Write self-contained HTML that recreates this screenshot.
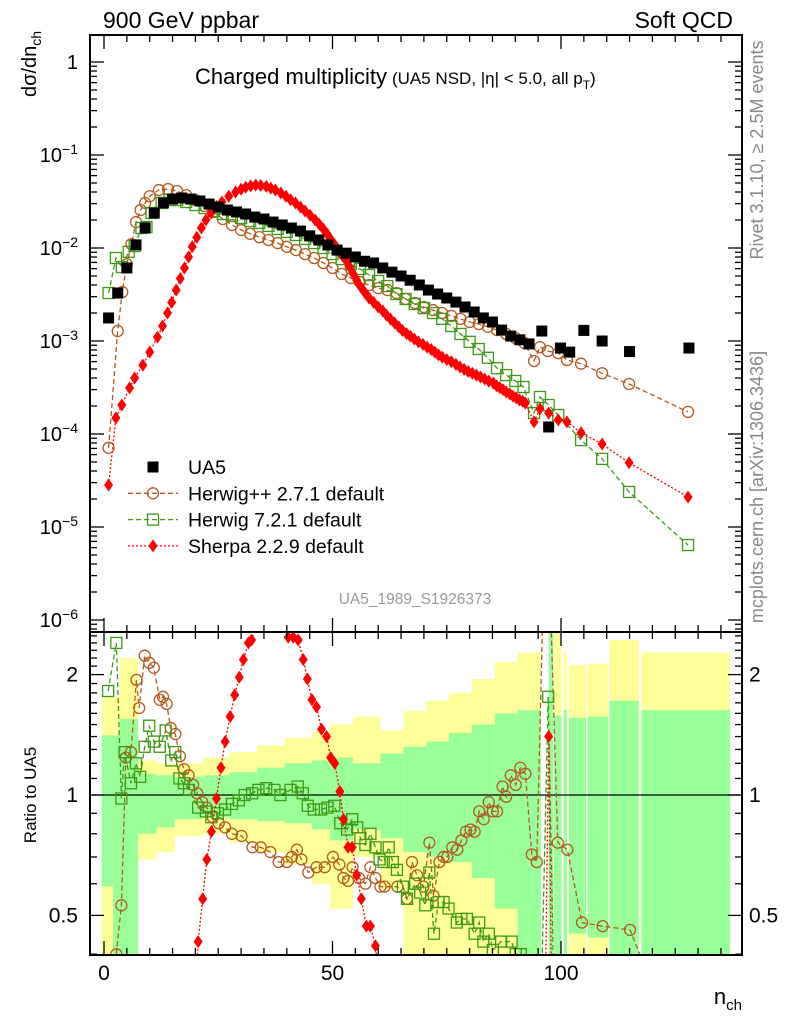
<!DOCTYPE html>
<html><head><meta charset="utf-8">
<style>
html,body{margin:0;padding:0;background:#fff;width:786px;height:1024px;overflow:hidden;position:relative;}
svg{display:block;position:absolute;left:0;top:0;font-family:"Liberation Sans",Arial,sans-serif;}
</style></head>
<body>
<svg id="chart" width="786" height="1024" viewBox="0 0 786 1024" overflow="hidden" xmlns="http://www.w3.org/2000/svg">
<defs>
<clipPath id="clipMain"><rect x="90" y="35" width="652" height="597"/></clipPath>
<clipPath id="clipRatio"><rect x="90" y="632" width="652" height="323"/></clipPath>
</defs>
<g id="bands" clip-path="url(#clipRatio)"></g>
<g id="plot"></g>
<text x="103" y="28" font-size="23">900 GeV ppbar</text>
<text x="733" y="28" font-size="23" text-anchor="end">Soft QCD</text>
<text x="195" y="84" font-size="22">Charged multiplicity<tspan font-size="17" dx="5">(UA5 NSD, |η| &lt; 5.0, all p</tspan><tspan font-size="12" dy="5">T</tspan><tspan font-size="17" dy="-5">)</tspan></text>
<text transform="translate(36,97) rotate(-90)" font-size="20">dσ/dn<tspan font-size="14" dy="5">ch</tspan></text>
<text transform="translate(36,795) rotate(-90)" font-size="17" text-anchor="middle">Ratio to UA5</text>
<text x="742" y="1004" font-size="22" text-anchor="end">n<tspan font-size="15" dy="6">ch</tspan></text>
<text transform="translate(763,150) rotate(-90)" font-size="18" fill="#888" text-anchor="middle">Rivet 3.1.10, ≥ 2.5M events</text>
<text transform="translate(763,487) rotate(-90)" font-size="18" fill="#888" text-anchor="middle">mcplots.cern.ch [arXiv:1306.3436]</text>
<text x="415" y="604" font-size="15.5" fill="#999" text-anchor="middle">UA5_1989_S1926373</text>
<g id="legend"></g>
</svg>
<script>
// ---- data ----
const ua5N = [1,3,5,7,9,11,13,15,17,19,21,23,25,27,29,31,33,35,37,39,41,43,45,47,49,51,53,55,57,59,61,63,65,67,69,71,73,75,77,79,81,83,85,87,89,91,93,95.8,97.3,99.9,101.9,105,109,115,128];
const ua5V = [1.77e-3,3.28e-3,6.1e-3,1.08e-2,1.64e-2,2.38e-2,3.05e-2,3.36e-2,3.45e-2,3.36e-2,3.2e-2,2.97e-2,2.76e-2,2.56e-2,2.44e-2,2.32e-2,2.15e-2,2.05e-2,1.9e-2,1.77e-2,1.64e-2,1.52e-2,1.35e-2,1.22e-2,1.08e-2,9.5e-3,8.8e-3,8.0e-3,7.2e-3,6.9e-3,6.1e-3,5.5e-3,5.0e-3,4.5e-3,4.0e-3,3.53e-3,3.2e-3,2.9e-3,2.62e-3,2.32e-3,2.05e-3,1.77e-3,1.6e-3,1.31e-3,1.13e-3,1.03e-3,9.3e-4,1.28e-3,1.19e-4,8.4e-4,7.6e-4,1.3e-3,1.0e-3,7.7e-4,8.4e-4];

const hppN = [1,3,4,5,6,7,8,9,10,12,14,16,18,20,22,24,26,28,30,32,34,36,38,40,42,44,46,48,50,52,54,56,58,60,62,64,66,68,70,72,74,76,78,80,82,84,86,88,90,92,94.1,95.4,97.1,99.4,101.3,104.4,109,114.9,127.8];
const hppV = [7.1e-5,1.28e-3,3.36e-3,6.7e-3,1.1e-2,1.9e-2,2.56e-2,3.05e-2,3.6e-2,4.2e-2,4.3e-2,4.1e-2,3.7e-2,3.28e-2,2.83e-2,2.44e-2,2.05e-2,1.77e-2,1.56e-2,1.42e-2,1.31e-2,1.22e-2,1.13e-2,1.03e-2,9.5e-3,8.6e-3,7.8e-3,6.9e-3,6.1e-3,5.25e-3,4.75e-3,4.3e-3,4.0e-3,3.7e-3,3.53e-3,3.28e-3,2.83e-3,2.56e-3,2.32e-3,2.15e-3,2.0e-3,1.86e-3,1.73e-3,1.6e-3,1.52e-3,1.42e-3,1.31e-3,1.19e-3,1.08e-3,9.5e-4,6.1e-4,8.6e-4,7.8e-4,7.4e-4,6.25e-4,5.7e-4,4.5e-4,3.45e-4,1.73e-4];

const h7N = [1,2.6,3.9,5.4,6.7,8.2,9.3,10.4,12.6,14.3,16,18,20,22,24,26,28,30,32,34,36,38,40,42,44,46,48,50,52,54,56,58,60,62,64,66,68,70,72,74,76,78,80,82,84,86,88,90,91.8,94.1,95.4,97.3,99.4,104.4,109,114.9,127.8];
const h7V = [3.28e-3,7.8e-3,6.25e-3,9.1e-3,1.05e-2,1.64e-2,1.68e-2,2.38e-2,3.05e-2,3.28e-2,3.28e-2,3.12e-2,2.9e-2,2.69e-2,2.5e-2,2.32e-2,2.21e-2,2.1e-2,1.95e-2,1.86e-2,1.73e-2,1.6e-2,1.49e-2,1.38e-2,1.25e-2,1.13e-2,1e-2,8.6e-3,7.6e-3,6.7e-3,5.95e-3,5.13e-3,4.42e-3,3.9e-3,3.2e-3,2.83e-3,2.5e-3,2.26e-3,2.0e-3,1.73e-3,1.45e-3,1.19e-3,9.8e-4,8.2e-4,6.6e-4,5.1e-4,4.3e-4,3.72e-4,3.2e-4,1.68e-4,2.5e-4,2.05e-4,1.6e-4,8.6e-5,5.4e-5,2.38e-5,6.4e-6];

const shN = [1,2.6,3.9,5.6,6.7,8.5,10,11.7,12.8,13.9,14.8,15.8,16.7,17.6,18.5,19.3,20.3,21.3,22.3,23.4,24.6,25.8,27.3,28.8,30,31,32.1,33.2,34.3,35.5,36.5,37.5,38.7,39.8,40.8,41.9,43,44,45.1,46.2,47.1,48,48.9,49.7,50.5,51.3,52.1,52.9,53.7,54.5,55.3,56.2,57.1,58,59,60,61,61.8,62.7,63.6,64.5,65.3,66.2,67,67.9,68.8,69.8,70.7,71.6,72.4,73.2,74,75,76,77,77.9,78.8,79.7,80.6,81.5,82.4,83.3,84.2,85.2,85.9,86.6,87.3,88,88.8,89.5,90.2,90.9,91.6,92.2,94.1,95.4,97.3,99.4,101.3,104.4,109,114.9,127.8];
const shV = [2.83e-5,1.49e-4,2.05e-4,3.13e-4,4.0e-4,5.5e-4,7.6e-4,1.1e-3,1.45e-3,2.0e-3,2.6e-3,3.53e-3,4.7e-3,6.1e-3,8.0e-3,1.03e-2,1.3e-2,1.64e-2,2.0e-2,2.38e-2,2.8e-2,3.12e-2,3.6e-2,4.0e-2,4.3e-2,4.5e-2,4.65e-2,4.75e-2,4.7e-2,4.6e-2,4.4e-2,4.2e-2,3.9e-2,3.6e-2,3.3e-2,3.05e-2,2.75e-2,2.5e-2,2.25e-2,2.0e-2,1.8e-2,1.6e-2,1.4e-2,1.22e-2,1.08e-2,9.5e-3,8.4e-3,7.4e-3,6.3e-3,5.3e-3,4.5e-3,3.8e-3,3.3e-3,2.9e-3,2.6e-3,2.32e-3,2.1e-3,1.9e-3,1.72e-3,1.56e-3,1.42e-3,1.3e-3,1.2e-3,1.13e-3,1.05e-3,9.8e-4,9.2e-4,8.6e-4,8.1e-4,7.6e-4,7.1e-4,6.7e-4,6.3e-4,6.0e-4,5.6e-4,5.25e-4,4.95e-4,4.7e-4,4.5e-4,4.3e-4,4.1e-4,3.9e-4,3.7e-4,3.53e-4,3.3e-4,3.15e-4,3.0e-4,2.83e-4,2.7e-4,2.55e-4,2.45e-4,2.32e-4,2.25e-4,2.15e-4,1.35e-4,1.86e-4,1.68e-4,1.42e-4,1.35e-4,1.03e-4,7.8e-5,4.9e-5,2.1e-5];

const rHppN = [0.9,2.7,3.8,4.8,5.9,7.1,7.7,8.9,9.9,10.9,12.2,12.9,13.7,14.6,15.6,16.6,17.5,18.5,19.5,20.4,21.5,22.5,23.8,25.1,26.5,28,30.1,32.5,34.3,36.4,38.2,40,41.1,42.2,43.2,44.7,46.5,48.3,50.1,51.5,52.4,53.4,54.4,55.8,57.2,58.3,59.4,60.5,61.4,64.2,66.3,67.4,68.5,69.9,71.2,72.1,73.4,74.3,75.1,76.2,77.3,78.2,79.2,80.2,81.1,82.1,83.1,84.2,85.1,86,87.2,88,89,90.1,91.1,92.2,93.6,94.7,96.2,97.5,99.3,101.4,104.6,109.1,115.1,127.8];
const rHppV = [0.04,0.4,0.53,1.24,1.28,1.94,1.65,2.23,2.14,2.08,1.73,1.76,1.69,1.47,1.42,1.25,1.16,1.12,1.06,1.01,0.96,0.93,0.88,0.85,0.83,0.8,0.79,0.74,0.74,0.72,0.68,0.68,0.7,0.73,0.69,0.64,0.66,0.66,0.7,0.67,0.62,0.61,0.66,0.62,0.6,0.66,0.62,0.59,0.59,0.59,0.55,0.68,0.63,0.59,0.76,0.56,0.68,0.7,0.7,0.74,0.73,0.77,0.81,0.82,0.81,0.91,0.87,0.96,0.91,0.91,1.05,0.99,1.12,1.06,1.17,1.13,0.71,0.68,3.5,3.5,0.76,0.73,0.48,0.47,0.46,0.2];

const rH7N = [0.9,2.7,3.8,4.5,5.9,7,7.9,8.9,9.9,10.9,12.2,13.5,14.7,15.6,16.5,17.5,18.6,20.6,22.3,23.5,24.9,26.5,28,29.5,30.8,32.4,33.8,35.5,37.3,38.6,40.8,42.4,43.5,44.6,45.9,47.5,48.9,50.4,51.7,53.2,54.3,55.4,56.1,57.2,58.3,59.4,60.3,61.2,62.3,63.2,64.1,65.4,66.3,68.1,69.2,70.3,71.2,72.2,73.2,74.3,75.4,77.2,78.2,79.4,81.1,82.1,83,84.2,85.1,86.9,89.2,90.1,91.2,93.5,95.5,97.2,98.8];
const rH7V = [1.82,2.4,0.98,1.28,1.07,1.2,1.11,1.32,1.49,1.36,1.32,1.45,1.22,1.28,1.1,1.07,1.03,0.93,0.91,0.88,0.9,0.92,0.95,0.97,1.0,1.01,1.03,1.04,1.03,1.0,1.03,1.05,1.01,0.94,0.92,0.92,0.93,0.94,0.85,0.82,0.87,0.83,0.78,0.75,0.8,0.74,0.69,0.68,0.74,0.68,0.65,0.59,0.55,0.6,0.57,0.53,0.64,0.45,0.54,0.54,0.52,0.48,0.49,0.49,0.45,0.48,0.43,0.45,0.41,0.43,0.43,0.40,0.40,0.3,0.25,1.76,0.2];

const rShN = [19.5,20.6,21.6,22.5,23.5,24.6,25.6,26.5,27.6,28.6,29.6,30.5,31.6,32.3,35,38,40.3,41.4,42.5,43.6,44.5,45.5,46.5,47.6,48.7,49.6,50.5,51.6,52.4,53.4,54.3,55.3,56.3,57.4,58.3,59.4,60.5,96,97.3,98.4];
const rShV = [0.2,0.43,0.55,0.69,0.81,0.98,1.17,1.36,1.57,1.78,1.97,2.18,2.4,2.44,3.0,3.0,2.48,2.48,2.44,2.18,1.95,1.73,1.66,1.46,1.4,1.24,1.2,1.02,0.87,0.74,0.74,0.63,0.55,0.47,0.47,0.42,0.3,0.1,1.4,0.1];

const bandLo = [-0.5,2,3.5,7.5,11.5,15.5,21.5,27.5,33.5,39.5,45.5,49.5,54.5,60.5,65.5,70.5,75.5,80.5,85.5,90.5,97.3,98.5,100.6,101.7,105.8,110.6,117.6];
const bandHi = [2,3.5,7.5,11.5,15.5,21.5,27.5,33.5,39.5,45.5,49.5,54.5,60.5,65.5,70.5,75.5,80.5,85.5,90.5,95.6,98.3,100.1,101.3,105.5,110.3,117,137];
const yelUp = [1.76,1.76,2.2,1.22,1.2,1.2,1.24,1.28,1.33,1.39,1.44,1.5,1.57,1.45,1.62,1.72,1.8,1.95,2.15,2.27,2.6,2.6,2.27,2.11,2.13,2.44,2.27];
const grnUp = [1.41,1.41,1.55,1.13,1.12,1.11,1.12,1.14,1.17,1.2,1.22,1.24,1.2,1.27,1.32,1.36,1.43,1.5,1.6,1.63,2.6,1.58,1.63,1.56,1.57,1.72,1.63];
const grnDn = [0.59,0.3,0.3,0.8,0.83,0.87,0.88,0.87,0.86,0.85,0.82,0.77,0.82,0.78,0.72,0.7,0.68,0.62,0.52,0.3,0.3,0.3,0.3,0.45,0.44,0.3,0.3];
const yelDn = [0.38,0.3,0.3,0.69,0.72,0.79,0.8,0.76,0.72,0.67,0.6,0.52,0.7,0.58,0.3,0.3,0.3,0.3,0.3,0.3,0.3,0.3,0.3,0.3,0.3,0.3,0.3];

const xTicksMajor = [0,50,100];
const ratioTickLabels = [0.5,1,2];
const decades = [0,-1,-2,-3,-4,-5,-6];

// ---- scales ----
const NS = "http://www.w3.org/2000/svg";
const X = n => 104 + 4.57*n;
const Ym = v => 62 - 93*Math.log10(v);
const Yr = r => 795 - 400*Math.log10(r);
const plot = document.getElementById('plot');
const bands = document.getElementById('bands');
const legend = document.getElementById('legend');
function mk(tag, attrs, parent){
  const e = document.createElementNS(NS, tag);
  for (const k in attrs) e.setAttribute(k, attrs[k]);
  (parent||plot).appendChild(e);
  return e;
}

// bands
for (let i=0;i<bandLo.length;i++){
  const x0 = X(bandLo[i]), w = X(bandHi[i])-X(bandLo[i]);
  const yr = mk('rect',{x:x0,y:Yr(yelUp[i]),width:w,height:Yr(yelDn[i])-Yr(yelUp[i]),fill:'#ffff99'},bands);
  
  
  const gr = mk('rect',{x:x0,y:Yr(grnUp[i]),width:w,height:Yr(grnDn[i])-Yr(grnUp[i]),fill:'#99ff99'},bands);
  
  
}
const unity = mk('line',{x1:90,x2:742,y1:Yr(1),y2:Yr(1),stroke:'#000','stroke-width':1.3});



// markers
function marker(type, cx, cy, g, color){
  let e;
  if (type==='sq') e = mk('rect',{x:cx-5.5,y:cy-5.5,width:11,height:11,fill:'#000'},g);
  else if (type==='circ') e = mk('circle',{cx:cx,cy:cy,r:5.5,fill:'none',stroke:color,'stroke-width':1.3},g);
  else if (type==='osq') e = mk('rect',{x:cx-5.5,y:cy-5.5,width:11,height:11,fill:'none',stroke:color,'stroke-width':1.3},g);
  else e = mk('path',{d:`M${cx},${cy-6.5}L${cx+4.5},${cy}L${cx},${cy+6.5}L${cx-4.5},${cy}Z`,fill:color},g);
  return e;
}
function series(N, V, yf, clip, type, color, dash, name){
  const g = mk('g',{'clip-path':`url(#${clip})`});
  
  
  if (dash){
    const pts = N.map((n,i)=>X(n).toFixed(1)+','+yf(V[i]).toFixed(1)).join(' ');
    const l = mk('polyline',{points:pts,fill:'none',stroke:color,'stroke-width':1.3,'stroke-dasharray':dash},g);
    
    
  }
  for (let i=0;i<N.length;i++){
    const m = marker(type, X(N[i]), yf(V[i]), g, color);
    
    
  }
}
const BR='#b35a1f', GR='#3b9a13', RD='#ff0000';
series(hppN,hppV,Ym,'clipMain','circ',BR,'5,3','herwigpp-series');
series(h7N,h7V,Ym,'clipMain','osq',GR,'5,3','herwig7-series');
series(shN,shV,Ym,'clipMain','dia',RD,'2,2','sherpa-series');
series(ua5N,ua5V,Ym,'clipMain','sq','#000',null,'ua5-data');
series(rHppN,rHppV,Yr,'clipRatio','circ',BR,'5,3','herwigpp-ratio');
series(rH7N,rH7V,Yr,'clipRatio','osq',GR,'5,3','herwig7-ratio');
series(rShN,rShV,Yr,'clipRatio','dia',RD,'2,2','sherpa-ratio');

// frames
const f1 = mk('rect',{x:90,y:35,width:652,height:597,fill:'none',stroke:'#000','stroke-width':2});


const f2 = mk('rect',{x:90,y:632,width:652,height:323,fill:'none',stroke:'#000','stroke-width':2});



function tick(x1,y1,x2,y2,name){
  const t = mk('line',{x1:x1,y1:y1,x2:x2,y2:y2,stroke:'#000','stroke-width':1.3});
  
  
}
// x ticks
for (let n=0;n<=135;n+=5){
  const L = xTicksMajor.includes(n)?14:7, x=X(n);
  tick(x,35,x,35+L,'x-tick');
  tick(x,632,x,632-L,'x-tick');
  tick(x,632,x,632+L,'x-tick');
  tick(x,955,x,955-L,'x-tick');
}
xTicksMajor.forEach(n=>{
  const t = mk('text',{x:X(n),y:980,'font-size':21,'text-anchor':'middle'});
  t.textContent = n;
  
  
});
// main y ticks
for (let k=-7;k<=0;k++){
  for (let m=1;m<=9;m++){
    const v = m*Math.pow(10,k), y = Ym(v);
    if (y<35||y>632) continue;
    const L = m===1?14:7;
    tick(90,y,90+L,y,'y-tick');
    tick(742,y,742-L,y,'y-tick');
  }
}
decades.forEach(k=>{
  const y = Ym(Math.pow(10,k));
  const t = mk('text',{x:78,y:y+7,'font-size':20,'text-anchor':'end'});
  
  
  if (k===0){ t.textContent='1'; }
  else {
    t.textContent='10';
    const s = mk('tspan',{'font-size':14,dy:-8},t);
    s.textContent = '−'+(-k);
  }
});
// ratio ticks
const rt=[0.4,0.5,0.6,0.7,0.8,0.9,1,1.1,1.2,1.3,1.4,1.5,1.6,1.7,1.8,1.9,2,2.1,2.2,2.3,2.4,2.5];
rt.forEach(r=>{
  const y=Yr(r); if(y<632||y>955) return;
  const L = ratioTickLabels.includes(r)?14:7;
  tick(90,y,90+L,y,'ratio-y-tick');
  tick(742,y,742-L,y,'ratio-y-tick');
});
ratioTickLabels.forEach(r=>{
  const a = mk('text',{x:78,y:Yr(r)+7,'font-size':21,'text-anchor':'end'});
  a.textContent = r;
  
  
  const b = mk('text',{x:749,y:Yr(r)+7,'font-size':21});
  b.textContent = r;
  
  
});

// legend
const legItems = [['UA5','sq','#000',null],['Herwig++ 2.7.1 default','circ',BR,'5,3'],['Herwig 7.2.1 default','osq',GR,'5,3'],['Sherpa 2.2.9 default','dia',RD,'2,2']];
legItems.forEach((it,i)=>{
  const y = 467 + i*26.3;
  const g = mk('g',{},legend);
  
  
  if (it[3]) mk('line',{x1:128,x2:178,y1:y,y2:y,stroke:it[2],'stroke-width':1.3,'stroke-dasharray':it[3]},g);
  marker(it[1],153,y,g,it[2]);
  const t = mk('text',{x:188,y:y+7,'font-size':19.5},g);
  t.textContent = it[0];
});
</script>
</body></html>
